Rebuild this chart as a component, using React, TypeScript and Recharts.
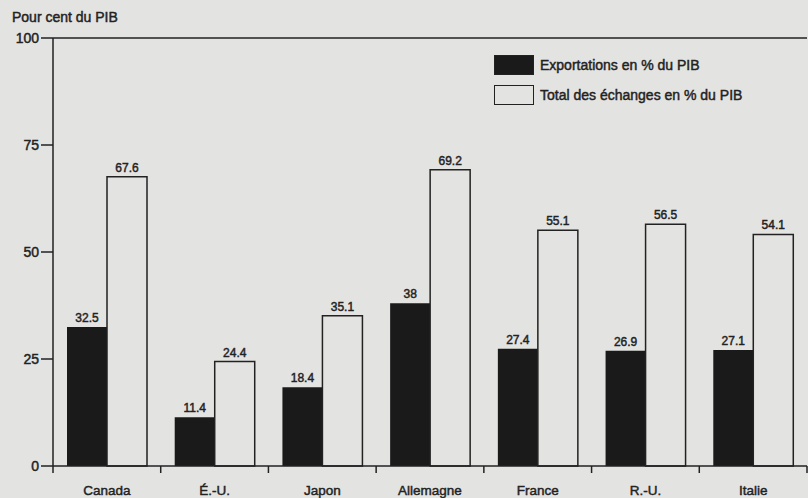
import { Bar, BarChart, LabelList, Legend, ReferenceLine, XAxis, YAxis } from 'recharts';

const pays = ['Canada', 'É.-U.', 'Japon', 'Allemagne', 'France', 'R.-U.', 'Italie'];
const exportations = [32.5, 11.4, 18.4, 38, 27.4, 26.9, 27.1];
const echanges = [67.6, 24.4, 35.1, 69.2, 55.1, 56.5, 54.1];
const yTicks = [0, 25, 50, 75, 100];

const data = pays.map((p, i) => ({ pays: p, exportations: exportations[i], echanges: echanges[i] }));

const BG = '#e3e3e1';
const INK = '#222222';
const FONT = "'Liberation Sans', Arial, Helvetica, sans-serif";
// le texte imprimé est un peu plus gras que le regular
const heavy = { stroke: INK, strokeWidth: 0.45 };

function PaysTick(props: any) {
  const { x, y, payload, index, visibleTicksCount } = props;
  const half = payload?.offset ?? 755 / 7 / 2;
  const last = index === (visibleTicksCount ?? pays.length) - 1;
  return (
    <g>
      <line x1={x - half} x2={x - half} y1={y} y2={y + 7} stroke={INK} strokeWidth={1.5} />
      {last && <line x1={x + half} x2={x + half} y1={y} y2={y + 7} stroke={INK} strokeWidth={1.5} />}
      <text x={x} y={y + 29} textAnchor="middle" fontSize={13.5} fill={INK} fontFamily={FONT} {...heavy}>
        {payload.value}
      </text>
    </g>
  );
}

function LegendBox(props: any) {
  const items = props.payload ?? [];
  return (
    <div style={{ fontFamily: FONT, fontSize: 14, color: INK, WebkitTextStroke: '0.45px #222' }}>
      {items.map((it: any) => (
        <div key={it.value} style={{ display: 'flex', alignItems: 'center', height: 30 }}>
          <div
            style={{
              width: 38,
              height: 18,
              background: it.color,
              border: `1.5px solid ${INK}`,
              marginRight: 6,
            }}
          />
          <span>{it.value}</span>
        </div>
      ))}
    </div>
  );
}

export default function App() {
  return (
    <div style={{ position: 'absolute', left: 0, top: 0, width: 808, height: 498, background: BG }}>
      <div
        style={{
          position: 'absolute',
          left: 12,
          top: 9,
          fontFamily: FONT,
          fontSize: 14,
          color: INK,
          WebkitTextStroke: '0.45px #222',
        }}
      >
        Pour cent du PIB
      </div>
      <BarChart
        width={808}
        height={498}
        data={data}
        margin={{ top: 38, right: 1, bottom: 0, left: 0 }}
        barGap={0}
        barSize={40}
      >
        <XAxis
          dataKey="pays"
          interval={0}
          height={32}
          tickSize={0}
          tickMargin={0}
          tickLine={false}
          axisLine={{ stroke: INK, strokeWidth: 1.5 }}
          tick={<PaysTick />}
        />
        <YAxis
          yAxisId="left"
          width={53}
          domain={[0, 100]}
          ticks={yTicks}
          tickSize={12}
          tickMargin={2}
          axisLine={{ stroke: INK, strokeWidth: 1.5 }}
          tickLine={{ stroke: INK, strokeWidth: 1.5 }}
          tick={{ fontSize: 14, fill: INK, fontFamily: FONT, ...heavy }}
        />
        <YAxis
          yAxisId="right"
          orientation="right"
          width={0}
          domain={[0, 100]}
          tick={false}
          tickLine={false}
          axisLine={{ stroke: INK, strokeWidth: 1.5 }}
        />
        <ReferenceLine yAxisId="left" y={100} stroke={INK} strokeWidth={1.5} />
        <Legend
          layout="vertical"
          align="center"
          verticalAlign="middle"
          wrapperStyle={{ position: 'absolute', left: 494, top: 50, width: 300 }}
          content={<LegendBox />}
        />
        <Bar
          yAxisId="left"
          dataKey="exportations"
          name="Exportations en % du PIB"
          fill="#1a1a1a"
          isAnimationActive={false}
        >
          <LabelList
            dataKey="exportations"
            position="top"
            offset={5}
            style={{ fontSize: 12, fill: INK, fontFamily: FONT, ...heavy }}
          />
        </Bar>
        <Bar
          yAxisId="left"
          dataKey="echanges"
          name="Total des échanges en % du PIB"
          fill={BG}
          stroke={INK}
          strokeWidth={1.5}
          isAnimationActive={false}
        >
          <LabelList
            dataKey="echanges"
            position="top"
            offset={5}
            style={{ fontSize: 12, fill: INK, fontFamily: FONT, ...heavy }}
          />
        </Bar>
      </BarChart>
    </div>
  );
}
